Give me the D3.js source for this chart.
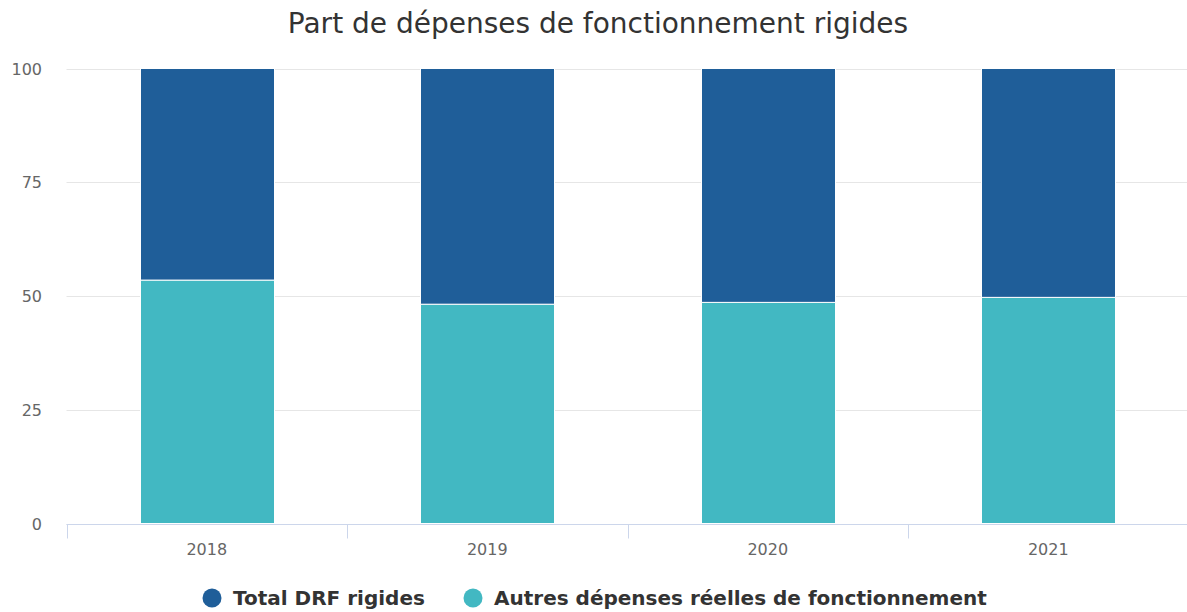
<!DOCTYPE html>
<html>
<head>
<meta charset="utf-8">
<script src="https://cdn.jsdelivr.net/npm/d3@7"></script>
<style>
  body { margin: 0; background: #fff; }
  svg { font-family: "DejaVu Sans", sans-serif; }
</style>
</head>
<body>
<div id="chart"></div>
<script>
// data
var years = ["2018", "2019", "2020", "2021"];
var autres = [53.5, 48.2, 48.6, 49.7];          // Autres dépenses réelles de fonctionnement
var rigides = [46.5, 51.8, 51.4, 50.3];         // Total DRF rigides
var yTicks = [0, 25, 50, 75, 100];
var seriesNames = ["Total DRF rigides", "Autres dépenses réelles de fonctionnement"];
var seriesColors = ["#1f5e99", "#42b8c2"];

var width = 1187, height = 612;
var margin = {left: 66.5, right: -1.5, top: 68.5, bottom: 88.5};

var svg = d3.select("#chart").append("svg")
  .attr("width", width)
  .attr("height", height);

var x = d3.scaleBand()
  .domain(years)
  .range([margin.left, width - margin.right])
  .paddingInner(0.522)
  .paddingOuter(0.261);

var xb = d3.scaleBand().domain(years).range([margin.left, width - margin.right]);

var y = d3.scaleLinear()
  .domain([0, 100])
  .range([height - margin.bottom, margin.top]);

// gridlines
svg.append("g")
  .selectAll("line")
  .data(yTicks)
  .enter().append("line")
  .attr("x1", margin.left)
  .attr("x2", width)
  .attr("y1", function(d) { return Math.round(y(d)) + 0.5; })
  .attr("y2", function(d) { return Math.round(y(d)) + 0.5; })
  .attr("stroke", "#e6e6e6")
  .attr("stroke-width", 1);

// y labels
svg.append("g")
  .selectAll("text")
  .data(yTicks)
  .enter().append("text")
  .attr("x", 42)
  .attr("y", function(d) { return y(d) + 6; })
  .attr("text-anchor", "end")
  .attr("fill", "#666")
  .style("font-size", "16px")
  .text(function(d) { return d; });

// stacked bars
var rows = years.map(function(yr, i) { return {year: yr, rigides: rigides[i], autres: autres[i]}; });
var stack = d3.stack().keys(["autres", "rigides"]);
var layers = stack(rows);
var colorOf = {autres: seriesColors[1], rigides: seriesColors[0]};

svg.append("g")
  .selectAll("g")
  .data(layers)
  .enter().append("g")
  .attr("fill", function(d) { return colorOf[d.key]; })
  .selectAll("rect")
  .data(function(d) { return d; })
  .enter().append("rect")
  .attr("x", function(d) { return Math.round(x(d.data.year)) + 0.5; })
  .attr("width", Math.round(x.bandwidth()))
  .attr("y", function(d) { return y(d[1]); })
  .attr("height", function(d) { return y(d[0]) - y(d[1]); })
  .attr("stroke", "#fff")
  .attr("stroke-width", 1);

// x axis
var axisY = Math.round(y(0)) + 0.5;
var xAxis = svg.append("g");
xAxis.append("line")
  .attr("x1", margin.left).attr("x2", width)
  .attr("y1", axisY).attr("y2", axisY)
  .attr("stroke", "#ccd6eb");
xAxis.selectAll("line.tick")
  .data(years)
  .enter().append("line")
  .attr("class", "tick")
  .attr("x1", function(d) { return Math.round(xb(d)) + 0.5; })
  .attr("x2", function(d) { return Math.round(xb(d)) + 0.5; })
  .attr("y1", axisY).attr("y2", axisY + 14)
  .attr("stroke", "#ccd6eb");
xAxis.selectAll("text")
  .data(years)
  .enter().append("text")
  .attr("x", function(d) { return xb(d) + xb.bandwidth() / 2; })
  .attr("y", axisY + 30)
  .attr("text-anchor", "middle")
  .attr("fill", "#666")
  .style("font-size", "16px")
  .text(function(d) { return d; });

// title
svg.append("text")
  .attr("x", 598)
  .attr("y", 33)
  .attr("text-anchor", "middle")
  .attr("fill", "#333")
  .style("font-size", "28px")
  .text("Part de dépenses de fonctionnement rigides");

// legend
var legendX = [212, 473];
var legend = svg.append("g")
  .selectAll("g")
  .data(seriesNames)
  .enter().append("g")
  .attr("transform", function(d, i) { return "translate(" + legendX[i] + ",598)"; });
legend.append("circle")
  .attr("r", 9.5)
  .attr("fill", function(d, i) { return seriesColors[i]; });
legend.append("text")
  .attr("x", 21)
  .attr("y", 7)
  .attr("fill", "#333")
  .style("font-size", "20px")
  .style("font-weight", "bold")
  .text(function(d) { return d; });
</script>
</body>
</html>
